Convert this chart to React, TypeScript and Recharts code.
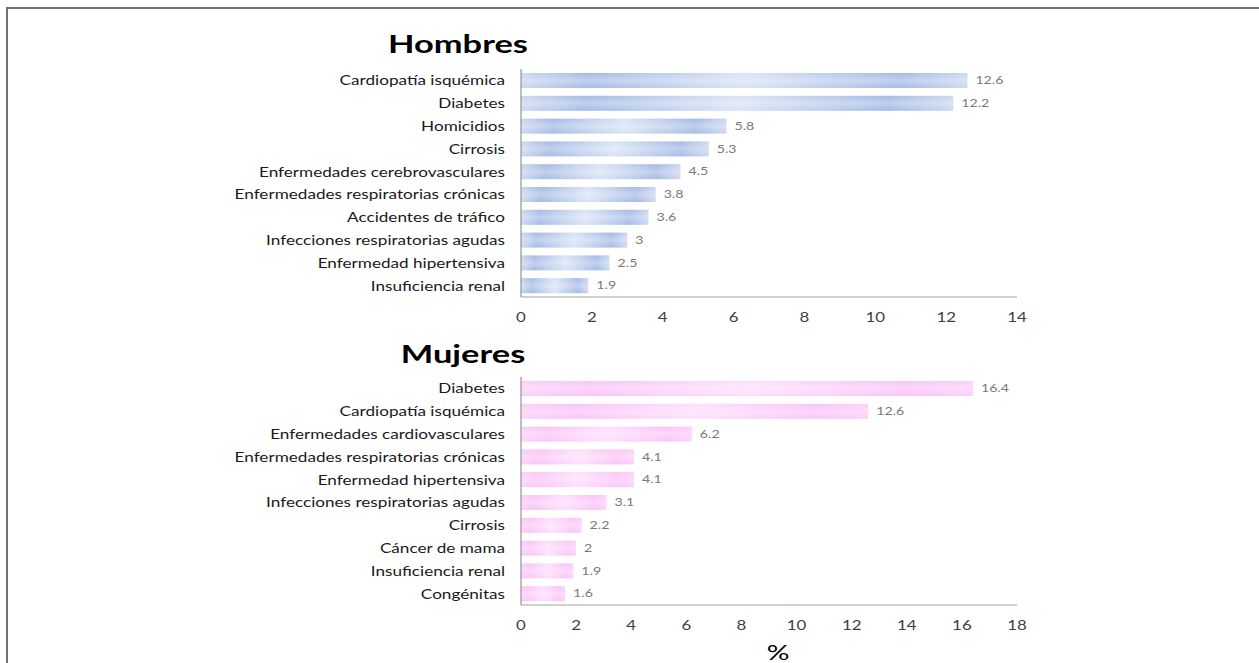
import { BarChart, Bar, XAxis, YAxis, LabelList } from 'recharts'

const hombresCausas = [
    'Cardiopatía isquémica',
    'Diabetes',
    'Homicidios',
    'Cirrosis',
    'Enfermedades cerebrovasculares',
    'Enfermedades respiratorias crónicas',
    'Accidentes de tráfico',
    'Infecciones respiratorias agudas',
    'Enfermedad hipertensiva',
    'Insuficiencia renal',
]
const hombresValores = [12.6, 12.2, 5.8, 5.3, 4.5, 3.8, 3.6, 3, 2.5, 1.9]
const hombresTicks = [0, 2, 4, 6, 8, 10, 12, 14]

const mujeresCausas = [
    'Diabetes',
    'Cardiopatía isquémica',
    'Enfermedades cardiovasculares',
    'Enfermedades respiratorias crónicas',
    'Enfermedad hipertensiva',
    'Infecciones respiratorias agudas',
    'Cirrosis',
    'Cáncer de mama',
    'Insuficiencia renal',
    'Congénitas',
]
const mujeresValores = [16.4, 12.6, 6.2, 4.1, 4.1, 3.1, 2.2, 2, 1.9, 1.6]
const mujeresTicks = [0, 2, 4, 6, 8, 10, 12, 14, 16, 18]

const FONT = 'Lato, "Open Sans", sans-serif'
// all lettering is drawn a bit wide
const SX = 1.35

const toRows = (causas: string[], valores: number[]) =>
    causas.map((causa, i) => ({ causa, valor: valores[i] }))

function WideText({ x, y, children, anchor, fontSize, fill, dy, baseline }: any) {
    return (
        <text
            transform={`translate(${x},${y}) scale(${SX},1)`}
            textAnchor={anchor}
            dominantBaseline={baseline}
            dy={dy}
            fontSize={fontSize}
            fontFamily={FONT}
            fill={fill}
        >
            {children}
        </text>
    )
}

const CategoryTick = (props: any) => (
    <WideText x={props.x} y={props.y} anchor="end" baseline="central" fontSize={12.7} fill="#1a1a1a">
        {props.payload.value}
    </WideText>
)

const NumberTick = (props: any) => (
    <WideText x={props.x} y={props.y} anchor="middle" dy="0.71em" fontSize={12.5} fill="#404040">
        {props.payload.value}
    </WideText>
)

const ValueLabel = (props: any) => {
    const { x, y, width, height, value } = props
    return (
        <WideText x={x + width + 8} y={y + height / 2} anchor="start" baseline="central" fontSize={10.5} fill="#7a7a7a">
            {value}
        </WideText>
    )
}

// horizontal shading plus a soft light streak along the middle of each bar
function makeShape(id: string) {
    return (props: any) => {
        const { x, y, width, height } = props
        if (width <= 0) return <g />
        return (
            <g>
                <rect x={x} y={y} width={width} height={height} fill={`url(#${id}-h)`} />
                <rect x={x} y={y} width={width} height={height} fill={`url(#${id}-v)`} />
            </g>
        )
    }
}

interface PanelProps {
    id: string
    causas: string[]
    valores: number[]
    ticks: number[]
    stops: string[]
    top: number
}

function Panel({ id, causas, valores, ticks, stops, top }: PanelProps) {
    const data = toRows(causas, valores)
    const max = ticks[ticks.length - 1]
    return (
        <div style={{ position: 'absolute', left: 0, top }}>
            <BarChart
                width={1259}
                height={340}
                data={data}
                layout="vertical"
                margin={{ top: 69, right: 242, bottom: 0, left: 0 }}
                barSize={15}
            >
                <defs>
                    <linearGradient id={`${id}-h`} x1="0" y1="0" x2="1" y2="0">
                        <stop offset="0%" stopColor={stops[0]} />
                        <stop offset="15%" stopColor={stops[1]} />
                        <stop offset="50%" stopColor={stops[2]} />
                        <stop offset="85%" stopColor={stops[1]} />
                        <stop offset="100%" stopColor={stops[0]} />
                    </linearGradient>
                    <linearGradient id={`${id}-v`} x1="0" y1="0" x2="0" y2="1">
                        <stop offset="0%" stopColor="#ffffff" stopOpacity={0} />
                        <stop offset="50%" stopColor="#ffffff" stopOpacity={0.3} />
                        <stop offset="100%" stopColor="#ffffff" stopOpacity={0} />
                    </linearGradient>
                </defs>
                <XAxis
                    type="number"
                    domain={[0, max]}
                    ticks={ticks}
                    height={43}
                    stroke="#a0a0a0"
                    tickLine={false}
                    tickSize={0}
                    tickMargin={16}
                    tick={NumberTick}
                />
                <YAxis
                    type="category"
                    dataKey="causa"
                    width={521}
                    stroke="#7f7f7f"
                    tickLine={false}
                    tickSize={0}
                    tickMargin={16}
                    interval={0}
                    tick={CategoryTick}
                />
                <Bar dataKey="valor" shape={makeShape(id)} isAnimationActive={false}>
                    <LabelList dataKey="valor" content={ValueLabel} />
                </Bar>
            </BarChart>
        </div>
    )
}

const titleStyle = (left: number, top: number): React.CSSProperties => ({
    position: 'absolute',
    left,
    top,
    transform: `translate(-50%, -50%) scale(${SX}, 1)`,
    fontFamily: FONT,
    fontWeight: 700,
    fontSize: 25.5,
    lineHeight: 1,
    color: '#000',
    whiteSpace: 'nowrap',
})

export default function App() {
    return (
        <div
            style={{
                position: 'absolute',
                left: 0,
                top: 0,
                width: 1259,
                height: 663,
                overflow: 'hidden',
                background: '#fff',
            }}
        >
            <div
                style={{
                    position: 'absolute',
                    left: 6,
                    top: 7,
                    width: 1260,
                    height: 670,
                    borderTop: '2px solid #727272',
                    borderLeft: '2px solid #727272',
                }}
            />
            <Panel
                id="hombres"
                causas={hombresCausas}
                valores={hombresValores}
                ticks={hombresTicks}
                stops={['#ccd8f0', '#a5bbe5', '#dae4f5']}
                top={0}
            />
            <Panel
                id="mujeres"
                causas={mujeresCausas}
                valores={mujeresValores}
                ticks={mujeresTicks}
                stops={['#fcd0fa', '#fbc4f8', '#fde0fc']}
                top={308}
            />
            <div style={titleStyle(458, 44)}>Hombres</div>
            <div style={titleStyle(463, 354)}>Mujeres</div>
            <div style={{ ...titleStyle(778, 651), fontWeight: 400, fontSize: 21 }}>%</div>
        </div>
    )
}
